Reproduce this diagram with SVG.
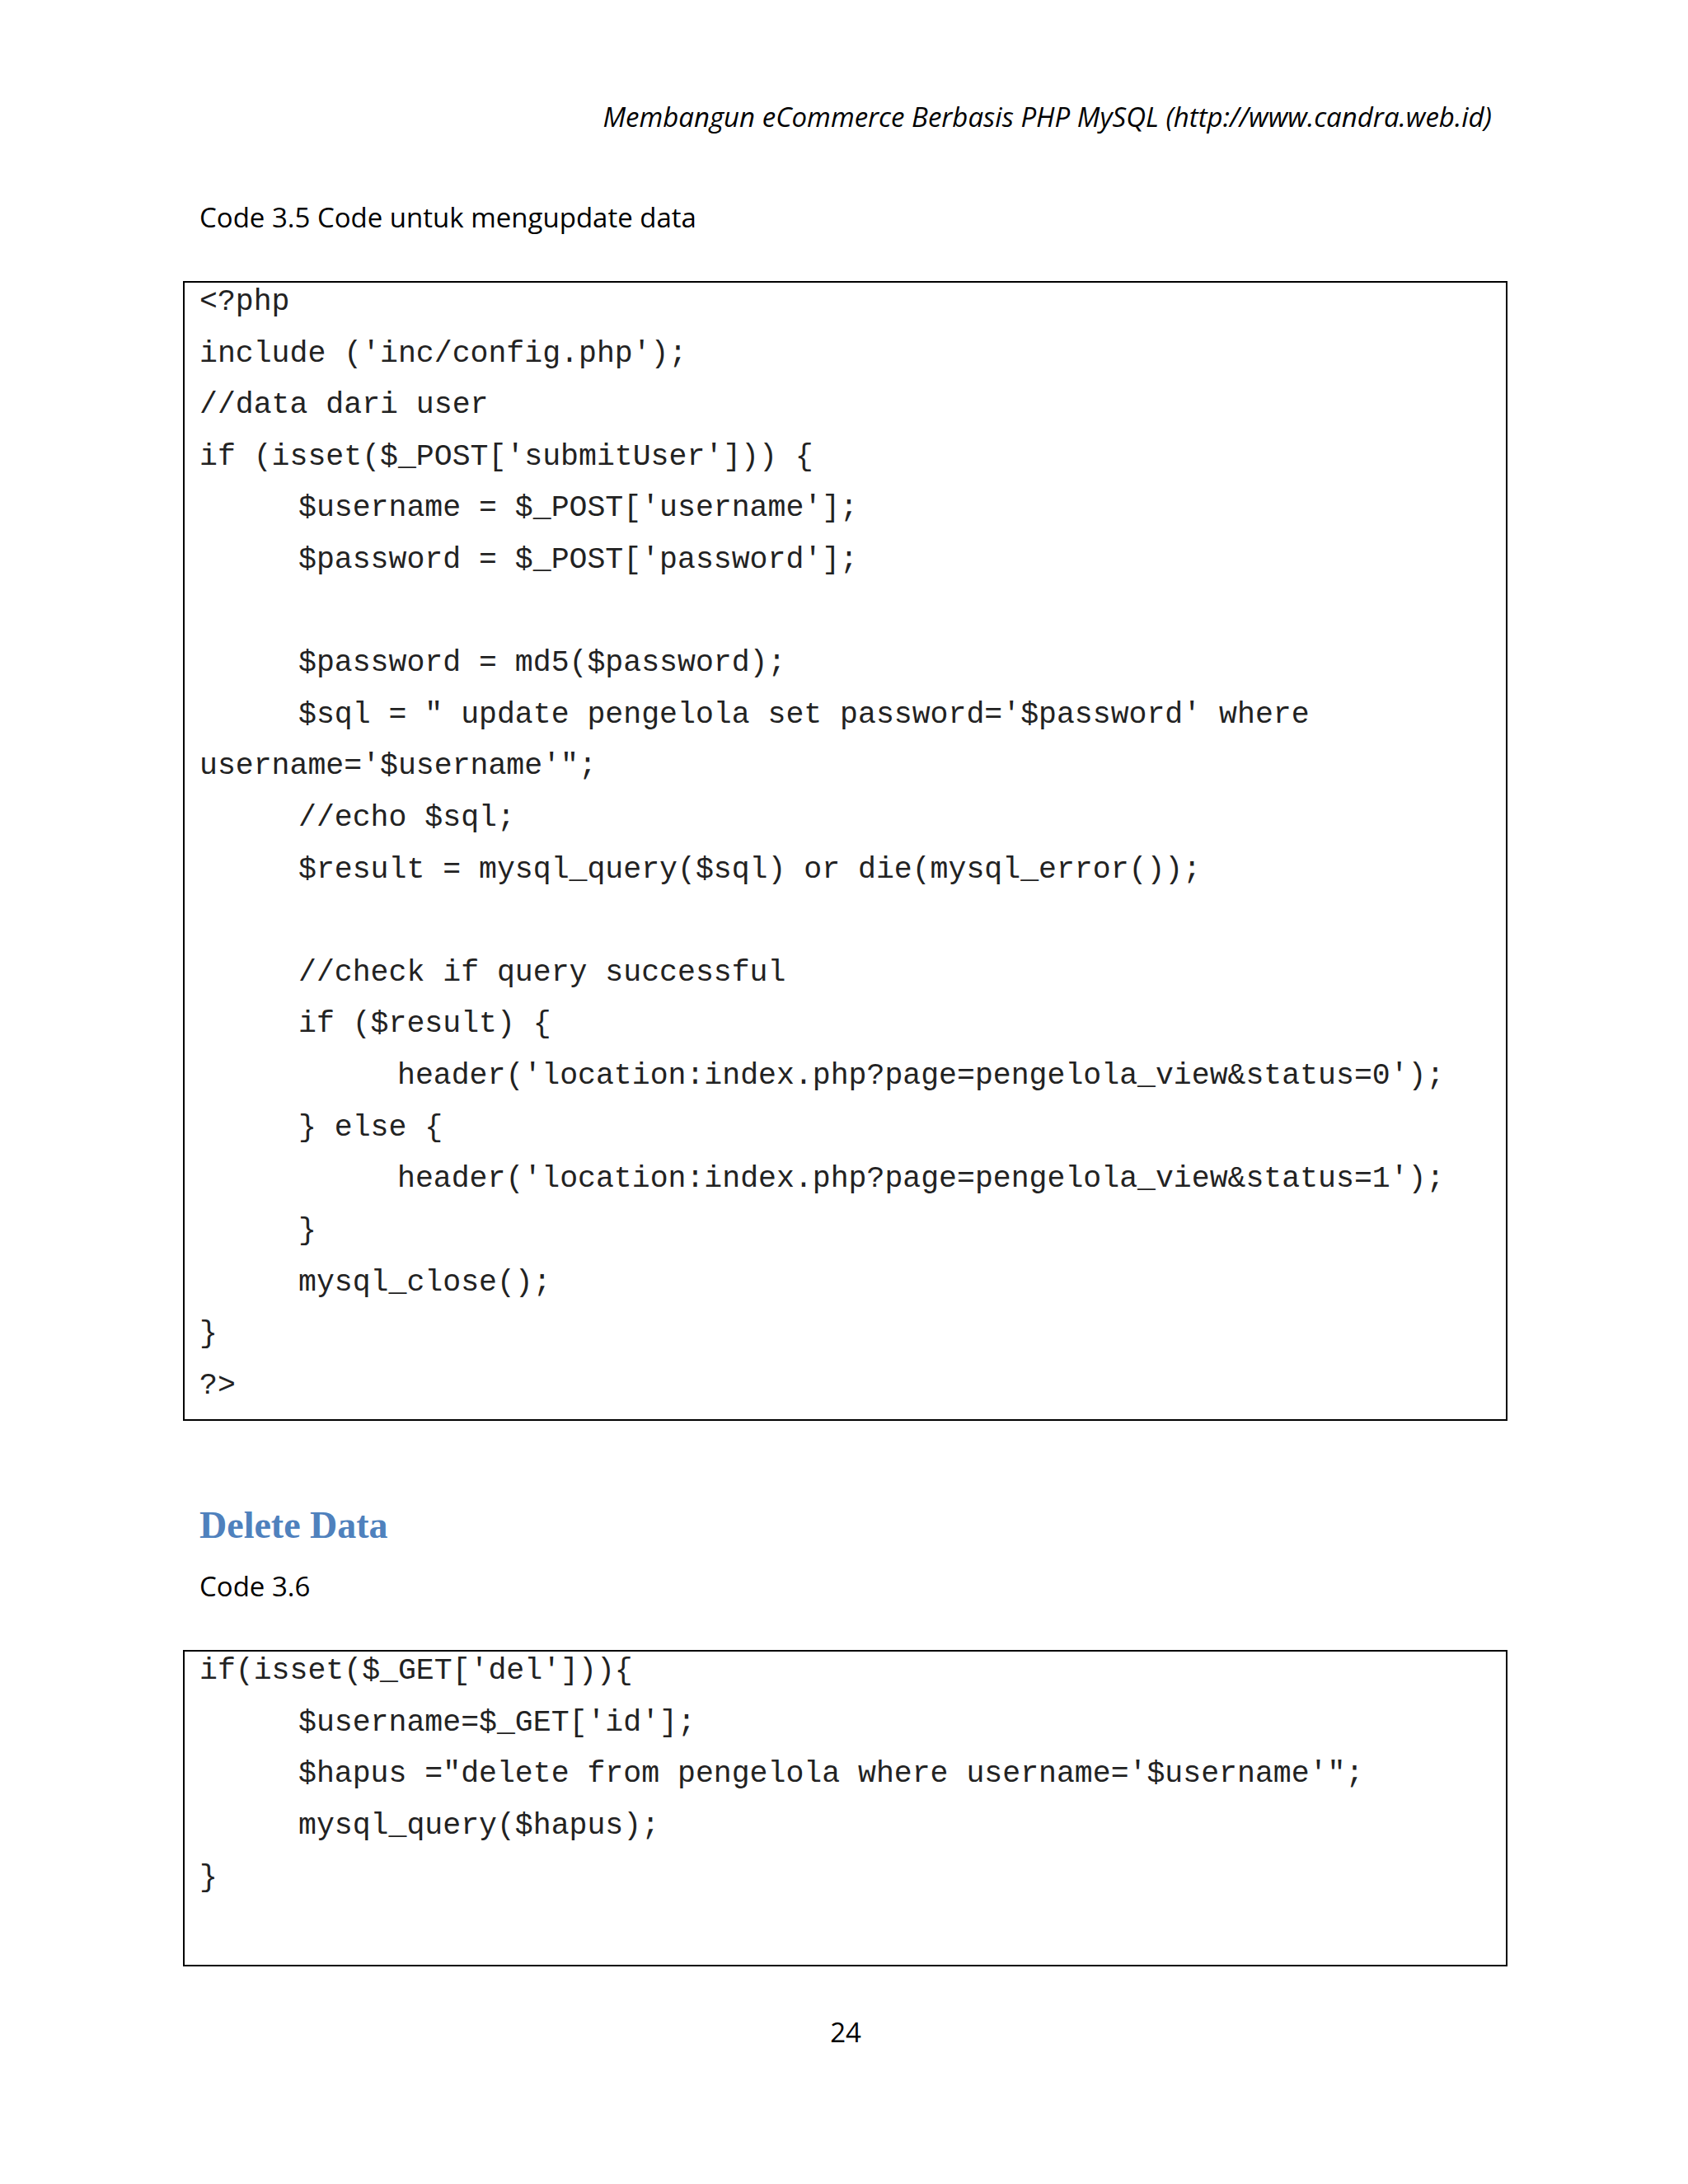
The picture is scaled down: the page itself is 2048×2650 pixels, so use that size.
<svg xmlns="http://www.w3.org/2000/svg" width="2048" height="2650" viewBox="0 0 2048 2650">
<style>
.c{font-family:"Liberation Mono","Courier New",monospace;font-size:36.5px;fill:#222;white-space:pre}
.t{font-family:"Open Sans","Liberation Sans",sans-serif;font-size:33px;fill:#000}
.b{fill:none;stroke:#000;stroke-width:2}
</style>
<rect width="2048" height="2650" fill="#fff"/>
<text class="t" x="1810" y="154" text-anchor="end" font-style="italic">Membangun eCommerce Berbasis PHP MySQL (http://www.candra.web.id)</text>
<text class="t" x="242" y="276">Code 3.5 Code untuk mengupdate data</text>
<g id="code1">
<rect class="b" x="223" y="342" width="1605" height="1381"/>
<text class="c" x="242" y="376">&lt;?php</text>
<text class="c" x="242" y="439">include ('inc/config.php');</text>
<text class="c" x="242" y="501">//data dari user</text>
<text class="c" x="242" y="564">if (isset($_POST['submitUser'])) {</text>
<text class="c" x="362" y="626">$username = $_POST['username'];</text>
<text class="c" x="362" y="689">$password = $_POST['password'];</text>
<text class="c" x="362" y="814">$password = md5($password);</text>
<text class="c" x="362" y="877">$sql = " update pengelola set password='$password' where</text>
<text class="c" x="242" y="939">username='$username'";</text>
<text class="c" x="362" y="1002">//echo $sql;</text>
<text class="c" x="362" y="1065">$result = mysql_query($sql) or die(mysql_error());</text>
<text class="c" x="362" y="1190">//check if query successful</text>
<text class="c" x="362" y="1252">if ($result) {</text>
<text class="c" x="482" y="1315">header('location:index.php?page=pengelola_view&amp;status=0');</text>
<text class="c" x="362" y="1378">} else {</text>
<text class="c" x="482" y="1440">header('location:index.php?page=pengelola_view&amp;status=1');</text>
<text class="c" x="362" y="1503">}</text>
<text class="c" x="362" y="1566">mysql_close();</text>
<text class="c" x="242" y="1628">}</text>
<text class="c" x="242" y="1691">?&gt;</text>
</g>
<text x="242" y="1866" font-family="Liberation Serif,serif" font-weight="bold" font-size="46" fill="#4F81BD">Delete Data</text>
<text class="t" x="242" y="1937">Code 3.6</text>
<g id="code2">
<rect class="b" x="223" y="2003" width="1605" height="382"/>
<text class="c" x="242" y="2037">if(isset($_GET['del'])){</text>
<text class="c" x="362" y="2100">$username=$_GET['id'];</text>
<text class="c" x="362" y="2162">$hapus ="delete from pengelola where username='$username'";</text>
<text class="c" x="362" y="2225">mysql_query($hapus);</text>
<text class="c" x="242" y="2288">}</text>
</g>
<text class="t" x="1026" y="2478" text-anchor="middle">24</text>
</svg>
